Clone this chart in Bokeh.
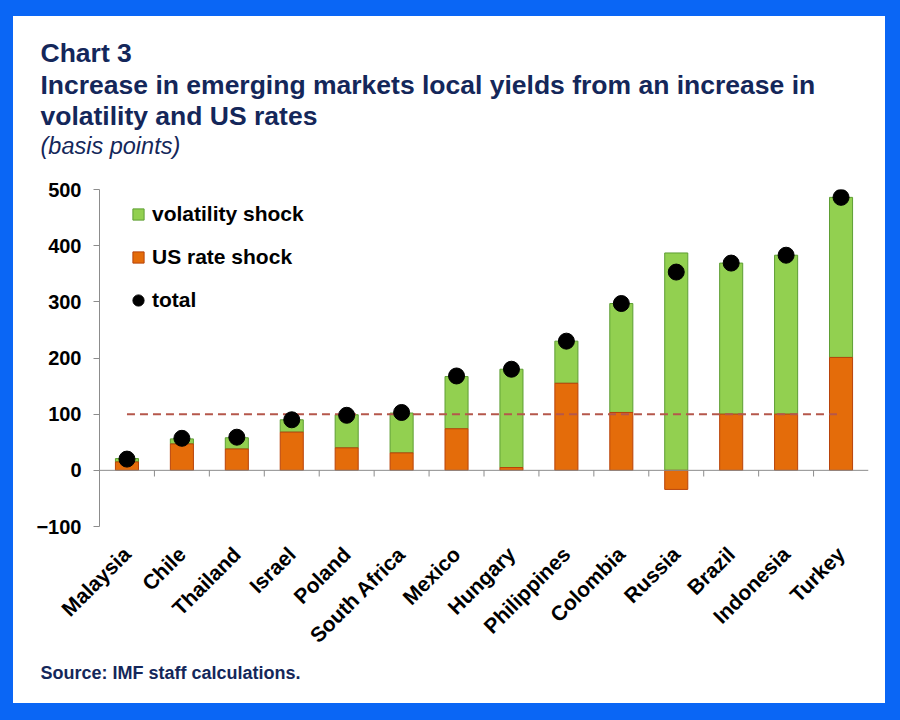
import math
from bokeh.plotting import figure
from bokeh.layouts import column
from bokeh.models import (ColumnDataSource, Range1d, FactorRange, FixedTicker, Span,
                          Legend, LegendItem)
from bokeh.transform import dodge
from bokeh.core.properties import value
from bokeh.embed import file_html
from bokeh.resources import INLINE

# ---------------- data ----------------
countries = ["Malaysia", "Chile", "Thailand", "Israel", "Poland", "South Africa", "Mexico",
             "Hungary", "Philippines", "Colombia", "Russia", "Brazil", "Indonesia", "Turkey"]
us_rate_shock = [15, 47, 38, 68, 40, 31, 74, 5, 155, 103, -34, 100, 100, 201]
volatility_shock = [6, 9, 20, 22, 59, 71, 93, 175, 75, 194, 387, 269, 283, 285]
total = [20, 57, 59, 90, 98, 103, 168, 180, 230, 297, 353, 369, 383, 486]
y_ticks = [-100, 0, 100, 200, 300, 400, 500]
threshold = 100

title_lines = ["Chart 3",
               "Increase in emerging markets local yields from an increase in",
               "volatility and US rates"]
subtitle = "(basis points)"
source_note = "Source: IMF staff calculations."

# ---------------- styles ----------------
FONT = "Liberation Sans"
NAVY = "#14275A"
GREEN = "#92D050"
GREEN_EDGE = "#5E9E34"
ORANGE = "#E46C0A"
ORANGE_EDGE = "#B8430A"
AXIS = "#8C8C8C"
BLUE = "#0A66F5"
W = 872


def text_panel(height):
    f = figure(width=W, height=height, x_range=Range1d(0, W), y_range=Range1d(0, height),
               output_backend="svg", toolbar_location=None, min_border=0,
               frame_align=False)
    f.axis.visible = False
    f.grid.visible = False
    f.outline_line_color = None
    f.background_fill_color = "white"
    f.border_fill_color = "white"
    return f


# ---------------- title panel ----------------
TH = 163
top = text_panel(TH)
top.text(x=[27, 27, 27], y=[127, 94.5, 63.5], text=title_lines,
         text_font=value(FONT), text_font_size="26.5px", text_font_style="bold",
         text_color=NAVY, text_baseline="middle")
top.text(x=[27], y=[34], text=[subtitle],
         text_font=value(FONT), text_font_size="23.5px", text_font_style="italic",
         text_color=NAVY, text_baseline="middle")

# ---------------- chart ----------------
vol_bottom = [max(r, 0) for r in us_rate_shock]
vol_top = [b + v for b, v in zip(vol_bottom, volatility_shock)]

src = ColumnDataSource(dict(cat=countries, rate=us_rate_shock, vb=vol_bottom,
                            vt=vol_top, total=total))

p = figure(x_range=FactorRange(factors=countries, range_padding=0),
           y_range=Range1d(y_ticks[0], y_ticks[-1]),
           width=W, height=479, output_backend="svg", toolbar_location=None,
           min_border_left=86, min_border_right=17, min_border_top=10,
           min_border_bottom=130, frame_align=False)
p.outline_line_color = None
p.xgrid.grid_line_color = None
p.ygrid.grid_line_color = None
p.background_fill_color = "white"
p.border_fill_color = "white"

# zero line and category boundary ticks
p.add_layout(Span(location=0, dimension="width", line_color=AXIS, line_width=1))
tick_src = ColumnDataSource(dict(cat=countries[1:]))
p.segment(x0=dodge("cat", -0.5, range=p.x_range), y0=0,
          x1=dodge("cat", -0.5, range=p.x_range), y1=-11,
          source=tick_src, line_color=AXIS, line_width=1)

green = p.vbar(x="cat", bottom="vb", top="vt", width=0.42, source=src,
               fill_color=GREEN, line_color=GREEN_EDGE, line_width=1)
orange = p.vbar(x="cat", bottom=0, top="rate", width=0.42, source=src,
                fill_color=ORANGE, line_color=ORANGE_EDGE, line_width=1)
p.line(x=[countries[0], countries[-1]], y=[threshold, threshold],
       line_color="#B5574B", line_width=2, line_dash="8 5")
dots = p.scatter(x="cat", y="total", size=16, fill_color="black", line_color="black",
                 source=src)

# legend proxies (hidden) so legend glyphs are small squares
leg_green = p.scatter(x="cat", y="vt", marker="square", fill_color=GREEN,
                      line_color=GREEN_EDGE, source=src, visible=False)
leg_orange = p.scatter(x="cat", y="rate", marker="square", fill_color=ORANGE,
                       line_color=ORANGE_EDGE, source=src, visible=False)
legend = Legend(items=[LegendItem(label="volatility shock", renderers=[leg_green]),
                       LegendItem(label="US rate shock", renderers=[leg_orange]),
                       LegendItem(label="total", renderers=[dots])],
                location=(25, 212), glyph_width=28, glyph_height=28, label_height=28,
                spacing=15, padding=0, margin=0, label_standoff=0,
                border_line_color=None, background_fill_alpha=0,
                label_text_font=FONT, label_text_font_size="21px",
                label_text_font_style="bold", label_text_color="black")
p.add_layout(legend)

# axes
p.yaxis.ticker = FixedTicker(ticks=y_ticks)
p.yaxis.axis_line_color = AXIS
p.yaxis.major_tick_line_color = AXIS
p.yaxis.major_tick_out = 6
p.yaxis.major_tick_in = 0
p.yaxis.minor_tick_line_color = None
p.yaxis.major_label_standoff = 12
p.yaxis.major_label_text_font = FONT
p.yaxis.major_label_text_font_size = "20px"
p.yaxis.major_label_text_font_style = "bold"
p.yaxis.major_label_text_color = "black"

p.xaxis.axis_line_color = None
p.xaxis.major_tick_line_color = None
p.xaxis.minor_tick_line_color = None
p.xaxis.major_label_orientation = math.pi / 4
p.xaxis.major_label_standoff = 18
p.xaxis.major_label_text_font = FONT
p.xaxis.major_label_text_font_size = "21px"
p.xaxis.major_label_text_font_style = "bold"
p.xaxis.major_label_text_color = "black"

# ---------------- source panel ----------------
SH = 45
bottom = text_panel(SH)
bottom.text(x=[27], y=[30.5], text=[source_note],
            text_font=value(FONT), text_font_size="18px", text_font_style="bold",
            text_color=NAVY, text_baseline="middle")

layout = column(top, p, bottom, spacing=0, styles={"background-color": "white"})
layout.margin = (16, 15, 17, 13)

html = file_html(layout, INLINE)
html = html.replace("<head>", "<head><style>html, body {background:" + BLUE +
                    "; margin:0; padding:0;}</style>", 1)
open("out.html", "w").write(html)
